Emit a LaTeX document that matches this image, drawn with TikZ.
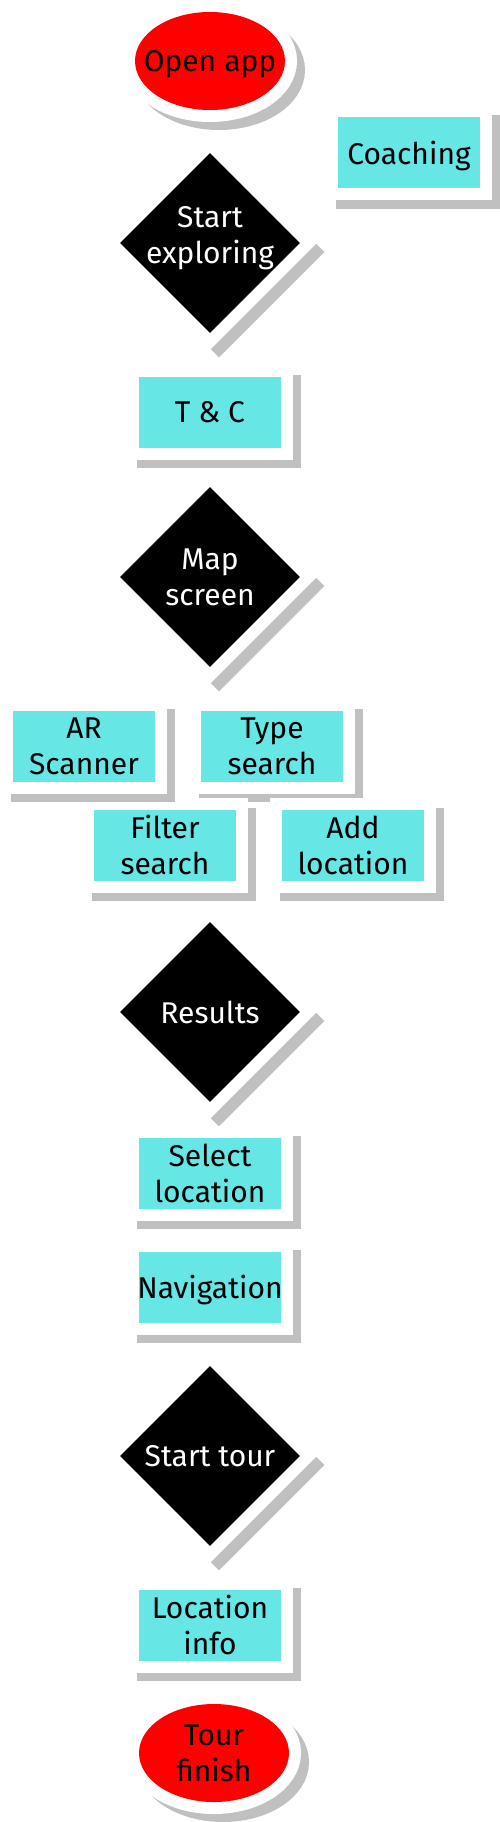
\documentclass[tikz,border=0pt]{standalone}
\usepackage{fontspec}
\setmainfont{Fira Sans}
\usepackage{xcolor}
\usetikzlibrary{shapes.geometric}
\definecolor{boxcyan}{HTML}{66E6E4}
\definecolor{liftgray}{HTML}{C0C0C0}
\tikzset{
lift/.style={preaction={draw=liftgray, fill=liftgray, line width=22pt, transform canvas={shift={(9pt,-9pt)}}}, preaction={draw=white, fill=white, line width=24pt}},
stepbox/.style={lift, rectangle, fill=boxcyan, minimum width=142pt, minimum height=71pt, inner sep=0pt},
choice/.style={lift, diamond, fill=black, minimum width=180pt, minimum height=180pt, inner sep=0pt},
terminal/.style={lift, ellipse, fill=red, minimum width=150pt, minimum height=98pt, inner sep=0pt},
darktext/.style={align=center, text depth=0pt, inner sep=0pt, font=\fontsize{30}{36}\selectfont},
lighttext/.style={darktext, text=white}
}
\begin{document}
\begin{tikzpicture}[x=1pt, y=-1pt]
\useasboundingbox (0,0) rectangle (500,1822);
\node[terminal, label={[darktext]center:Open app}] (openapp) at (210,61) {};
\node[stepbox, label={[darktext]center:Coaching}] (coaching) at (409,153) {};
\node[choice, label={[lighttext, yshift=8pt]center:Start\\exploring}] (explore) at (210,243) {};
\node[stepbox, label={[darktext]center:T \& C}] (terms) at (210,412) {};
\node[choice, label={[lighttext]center:Map\\screen}] (mapscreen) at (210,577) {};
\node[stepbox, label={[darktext]center:Type\\search}] (typesearch) at (272,746) {};
\node[stepbox, label={[darktext]center:Filter\\search}] (filtersearch) at (165,845) {};
\node[stepbox, label={[darktext]center:Add\\location}] (addlocation) at (353,845) {};
\node[stepbox, label={[darktext]center:AR\\Scanner}] (arscanner) at (84,746) {};
\node[choice, label={[lighttext]center:Results}] (results) at (210,1012) {};
\node[stepbox, label={[darktext]center:Select\\location}] (selectlocation) at (210,1173) {};
\node[stepbox, label={[darktext]center:Navigation}] (navigation) at (210,1287) {};
\node[choice, label={[lighttext]center:Start tour}] (starttour) at (210,1456) {};
\node[stepbox, label={[darktext]center:Location\\info}] (locationinfo) at (210,1625) {};
\node[terminal, label={[darktext]center:Tour\\finish}] (tourfinish) at (214,1753) {};
\end{tikzpicture}
\end{document}
